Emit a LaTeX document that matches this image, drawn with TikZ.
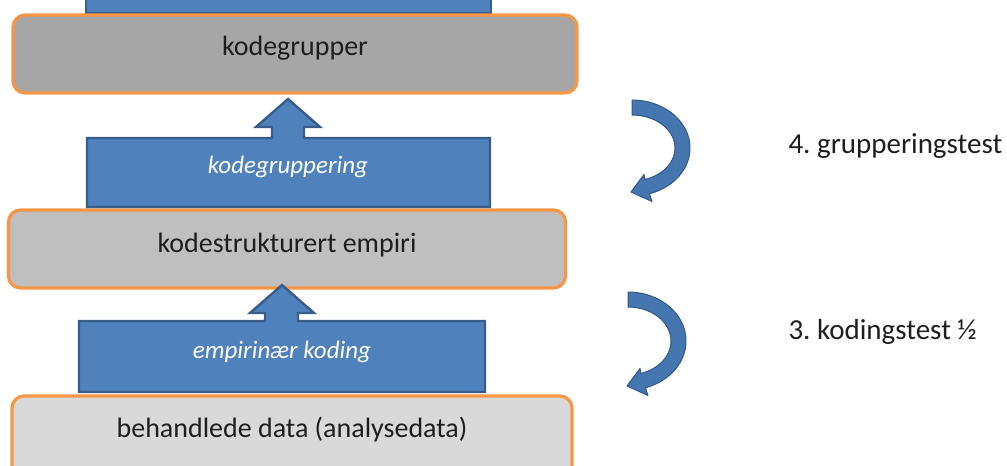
\documentclass[tikz,border=0pt]{standalone}
\usepackage{fontspec}
\setmainfont{Carlito}
\frenchspacing

\definecolor{frameorange}{HTML}{F79646}
\definecolor{greydark}{HTML}{A6A6A6}
\definecolor{greymid}{HTML}{BFBFBF}
\definecolor{greylight}{HTML}{D9D9D9}
\definecolor{stepblue}{HTML}{4F81BD}
\definecolor{stepedge}{HTML}{385D8A}
\definecolor{loopblue}{HTML}{4676B0}
\definecolor{loopedge}{HTML}{30598C}
\definecolor{inktext}{HTML}{1E1E1E}

\tikzset{
  levelbox/.style={draw=frameorange, line width=3.2pt, rounded corners=12pt,
    inner sep=0pt},
  levellabel/.style={anchor=base, text=inktext, font=\fontsize{28}{30}\selectfont},
  stepshape/.style={fill=stepblue, draw=stepedge, line width=2.4pt, line join=miter},
  steplabel/.style={anchor=base, text=white, font=\itshape\fontsize{25}{27}\selectfont},
  testlabel/.style={anchor=base west, text=inktext, font=\fontsize{29}{31}\selectfont},
  loopshape/.style={fill=loopblue, draw=loopedge, line width=1pt, line join=round},
}

% curved feedback arrow: #1,#2 = centre of the bend, #3 = vertical radius
\newcommand{\loopback}[3]{%
  \pgfmathsetmacro{\ea}{72.5}
  \path[loopshape]
    plot[domain=-90:\ea, samples=40] ({#1+58*cos(\x)},{#2+(#3+8)*sin(\x)})
    -- ({#1+20}, {#2+#3+13.5})
    -- ({#1-1}, {#2+#3+4})
    -- ({#1+12}, {#2+#3-13.5})
    -- plot[domain=\ea:-90, samples=40] ({#1+43*cos(\x)},{#2+(#3-7)*sin(\x)})
    -- cycle;
}

\begin{document}
\begin{tikzpicture}[x=1pt, y=-1pt]
\useasboundingbox (0,0) rectangle (1007,466);
\clip (0,0) rectangle (1007,466);

% step arrow continuing above the top level
\path[stepshape] (86,-10) rectangle (491,13);

% levels
\node[levelbox, fill=greydark, minimum width=564pt, minimum height=78pt]
  (grp) at (295,54) {};
\node[levellabel] (grpt) at (295,55) {kodegrupper};

\node[levelbox, fill=greymid, minimum width=557pt, minimum height=78pt]
  (emp) at (287,249) {};
\node[levellabel] (empt) at (287,252) {kodestrukturert empiri};

\node[levelbox, fill=greylight, minimum width=560pt, minimum height=90pt]
  (dat) at (292,441) {};
\node[levellabel] (datt) at (292,437) {behandlede data (analysedata)};

% upward step: kodegruppering
\path[stepshape] (87,207) -- (87,138) -- (272,138) -- (272,127) -- (256,127)
  -- (288,99) -- (320,127) -- (304,127) -- (304,138) -- (490,138)
  -- (490,207) -- cycle;
\node[steplabel] (kg) at (288,173) {kodegruppering};

% upward step: empirinær koding
\path[stepshape] (79,392) -- (79,321) -- (265,321) -- (265,313) -- (250,313)
  -- (282,285) -- (314,313) -- (298,313) -- (298,321) -- (485,321)
  -- (485,392) -- cycle;
\node[steplabel] (ek) at (282,358) {empirinær koding};

% feedback loops and their tests
\loopback{632}{148}{40}
\node[testlabel] (t4) at (785,153) {4. grupperingstest};

\loopback{628}{341}{41}
\node[testlabel] (t3) at (785,339) {3. kodingstest ½};
\end{tikzpicture}
\end{document}
